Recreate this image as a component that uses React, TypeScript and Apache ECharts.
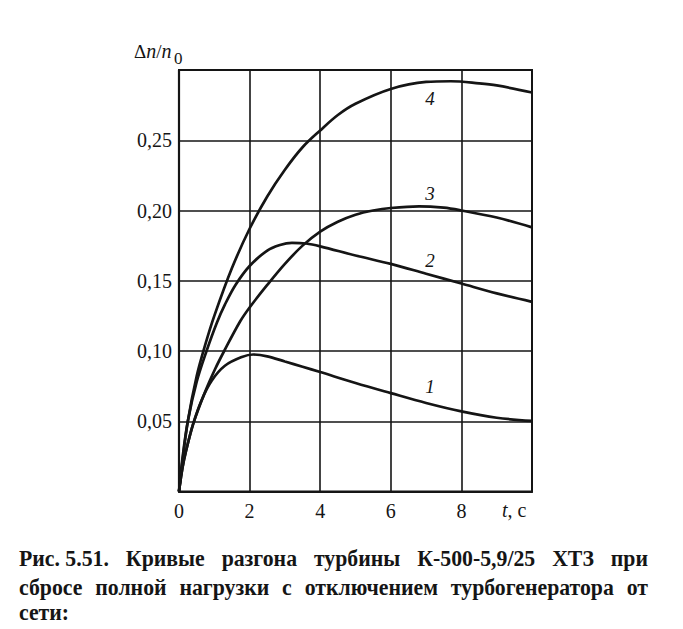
import React, { useEffect, useRef } from "react";
import * as echarts from "echarts";

// Time, s  /  Δn/n0
const T1 = [0, 0.1, 0.2, 0.4, 0.64, 0.93, 1.3, 1.78, 2.1, 2.5, 3, 3.5, 4, 5, 6, 7, 8, 9, 10];
const V1 = [0, 0.017, 0.029, 0.048, 0.065, 0.079, 0.0895, 0.0957, 0.0975, 0.0962, 0.0925, 0.0888, 0.085, 0.0772, 0.07, 0.063, 0.057, 0.0525, 0.0502];

const T2 = [0, 0.1, 0.25, 0.5, 0.78, 1.07, 1.3, 1.6, 2, 2.5, 2.86, 3.2, 3.6, 4, 5, 6, 7, 8, 9, 10];
const V2 = [0, 0.024, 0.05, 0.078, 0.1, 0.12, 0.133, 0.147, 0.1605, 0.1715, 0.1755, 0.177, 0.1765, 0.1745, 0.168, 0.162, 0.155, 0.148, 0.141, 0.135];

const T3 = [0, 0.1, 0.2, 0.4, 0.74, 1.02, 1.28, 1.73, 2, 2.5, 3, 3.5, 4, 4.5, 5, 5.5, 6, 6.8, 7.5, 8, 9, 10];
const V3 = [0, 0.017, 0.029, 0.048, 0.071, 0.087, 0.1, 0.121, 0.131, 0.147, 0.162, 0.175, 0.185, 0.192, 0.197, 0.2, 0.2018, 0.203, 0.202, 0.2, 0.195, 0.188];

const T4 = [0, 0.1, 0.25, 0.5, 0.75, 1, 1.5, 2, 2.5, 3, 3.5, 4, 4.5, 5, 6, 7, 7.7, 8.5, 9, 10];
const V4 = [0, 0.022, 0.05, 0.082, 0.105, 0.125, 0.159, 0.187, 0.21, 0.229, 0.245, 0.257, 0.268, 0.276, 0.2865, 0.2915, 0.292, 0.2905, 0.289, 0.284];

const CURVE_NAMES = ["1", "2", "3", "4"];
// label anchor positions in data coordinates [t, value]
const LABEL_POS = [
  [7.11, 0.0744],
  [7.11, 0.1644],
  [7.11, 0.212],
  [7.11, 0.2795],
];

const X_TICKS_MAX = 10;
const Y_MAX = 0.3;

const CAPTION_LINES = [
  ["Рис. 5.51.", "Кривые", "разгона", "турбины", "К-500-5,9/25", "ХТЗ", "при"],
  ["сбросе", "полной", "нагрузки", "с", "отключением", "турбогенератора", "от"],
  ["сети:"],
];

const INK = "#151515";
const SERIF = "'Liberation Serif', 'Times New Roman', serif";

export default function App() {
  const ref = useRef<HTMLDivElement>(null);

  useEffect(() => {
    if (!ref.current) return;
    const chart = echarts.init(ref.current, null, { renderer: "svg" });

    // caption layout (justified lines)
    const capFont = `bold 24px ${SERIF}`;
    const canvas = document.createElement("canvas");
    const ctx = canvas.getContext("2d") as CanvasRenderingContext2D;
    ctx.font = capFont;
    const refW = ctx.measureText("турбогенератора").width || 184;
    const sx = 163 / refW;
    const left = 19;
    const right = 648;
    const baselines = [566, 595, 620];
    const capElems: any[] = [];
    CAPTION_LINES.forEach((words, li) => {
      const widths = words.map((w) => ctx.measureText(w).width * sx);
      const total = widths.reduce((a, b) => a + b, 0);
      const justify = li < CAPTION_LINES.length - 1 && words.length > 1;
      const gap = justify ? (right - left - total) / (words.length - 1) : 6;
      let x = left;
      words.forEach((w, wi) => {
        capElems.push({
          type: "text",
          x,
          y: baselines[li] - 8,
          scaleX: sx,
          style: {
            text: w,
            font: capFont,
            fill: INK,
            textAlign: "left",
            textVerticalAlign: "middle",
          },
        });
        x += widths[wi] + gap;
      });
    });

    const seriesData = [
      [T1, V1],
      [T2, V2],
      [T3, V3],
      [T4, V4],
    ];

    const series = seriesData.map(([ts, vs], i) => ({
      type: "line",
      name: CURVE_NAMES[i],
      data: ts.map((t, k) => [t, vs[k]]),
      smooth: 0.35,
      symbol: "none",
      lineStyle: { color: INK, width: 2.7 },
      z: 3,
      markPoint: {
        symbol: "circle",
        symbolSize: 1,
        itemStyle: { color: "rgba(0,0,0,0)" },
        label: {
          show: true,
          position: "inside",
          formatter: CURVE_NAMES[i],
          color: INK,
          fontStyle: "italic",
          fontFamily: SERIF,
          fontSize: 19,
        },
        data: [{ coord: LABEL_POS[i] }],
      },
    }));

    chart.setOption({
      animation: false,
      grid: {
        left: 179,
        right: 151,
        top: 70,
        bottom: 137.5,
        show: true,
        borderColor: INK,
        borderWidth: 2,
      },
      xAxis: {
        type: "value",
        min: 0,
        max: X_TICKS_MAX,
        interval: 2,
        axisLine: { show: true, lineStyle: { color: INK, width: 2.2 } },
        axisTick: { show: false },
        splitLine: { show: true, lineStyle: { color: INK, width: 1.6 } },
        axisLabel: {
          color: INK,
          fontFamily: SERIF,
          fontSize: 20,
          margin: 9,
          formatter: (v: number) => (v >= X_TICKS_MAX ? "" : String(v)),
        },
      },
      yAxis: {
        type: "value",
        min: 0,
        max: Y_MAX,
        interval: 0.05,
        axisLine: { show: true, lineStyle: { color: INK, width: 2.2 } },
        axisTick: { show: false },
        splitLine: { show: true, lineStyle: { color: INK, width: 1.6 } },
        axisLabel: {
          color: INK,
          fontFamily: SERIF,
          fontSize: 20,
          margin: 7,
          formatter: (v: number) => {
            const r = Math.round(v * 100);
            if (r === 0 || r >= 30) return "";
            return v.toFixed(2).replace(".", ",");
          },
        },
      },
      series,
      graphic: [
        {
          type: "text",
          x: 134,
          y: 51,
          style: {
            text: "{d|Δ}{n|n}{d|/}{n|n}",
            font: `20px ${SERIF}`,
            fill: INK,
            textVerticalAlign: "middle",
            rich: {
              d: { fontFamily: SERIF, fontSize: 19, fill: INK },
              n: { fontFamily: SERIF, fontSize: 20, fontStyle: "italic", fill: INK },
            },
          },
        },
        {
          type: "text",
          x: 174,
          y: 58,
          style: {
            text: "0",
            font: `17px ${SERIF}`,
            fill: INK,
            textVerticalAlign: "middle",
          },
        },
        {
          type: "text",
          x: 502,
          y: 510,
          style: {
            text: "{i|t}{r|, c}",
            font: `20px ${SERIF}`,
            fill: INK,
            textVerticalAlign: "middle",
            rich: {
              i: { fontFamily: SERIF, fontSize: 20, fontStyle: "italic", fill: INK },
              r: { fontFamily: SERIF, fontSize: 20, fill: INK },
            },
          },
        },
        ...capElems,
      ],
    });

    return () => chart.dispose();
  }, []);

  return (
    <div
      ref={ref}
      style={{ position: "absolute", left: 0, top: 0, width: 683, height: 629, background: "#fff" }}
    />
  );
}
